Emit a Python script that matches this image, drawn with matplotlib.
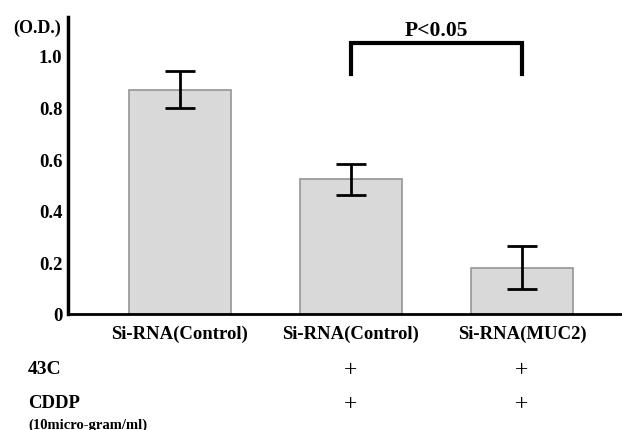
import matplotlib
matplotlib.use('Agg')
import matplotlib.pyplot as plt
import matplotlib.transforms as mtransforms

groups = ['Si-RNA(Control)', 'Si-RNA(Control)', 'Si-RNA(MUC2)']
od_mean = [0.87, 0.523, 0.18]
od_err = [0.072, 0.06, 0.082]
row_43c = ['', '+', '+']
row_cddp = ['', '+', '+']
yticks = [0, 0.2, 0.4, 0.6, 0.8, 1.0]
ytick_labels = ['0', '0.2', '0.4', '0.6', '0.8', '1.0']

plt.rcParams['font.family'] = ['Liberation Serif', 'DejaVu Serif']

W, H = 622, 431
fig = plt.figure(figsize=(W / 100, H / 100), dpi=100)
ax = fig.add_axes([68 / W, (H - 315) / H, (W - 68) / W, (315 - 18) / H])

x = list(range(len(groups)))
ax.bar(x, od_mean, width=0.6, color='#d9d9d9', edgecolor='#959595', linewidth=1.2, zorder=2)
ax.errorbar(x, od_mean, yerr=od_err, fmt='none', ecolor='black', elinewidth=2,
            capsize=11, capthick=2, zorder=3)

ax.set_xlim(-0.655, 2.585)
ax.set_ylim(0, 1.151)

for s in ['top', 'right']:
    ax.spines[s].set_visible(False)
ax.spines['left'].set_linewidth(2.5)
ax.spines['bottom'].set_linewidth(2)

ax.set_yticks(yticks)
ax.set_yticklabels(ytick_labels, fontsize=13.5, fontweight='bold')
ax.tick_params(axis='y', length=0, pad=4)
ax.set_xticks(x)
ax.set_xticklabels(groups, fontsize=13.5, fontweight='bold')
ax.tick_params(axis='x', length=0, pad=7.5)

fig.text(13 / W, 1 - 28 / H, '(O.D.)', fontsize=13, fontweight='bold', va='center', ha='left')

# significance bracket
bx0, bx1 = 1, 2
ytop, ybot = 1.051, 0.93
ax.plot([bx0, bx0, bx1, bx1], [ybot, ytop, ytop, ybot], color='black', lw=3,
        solid_joinstyle='miter', clip_on=False)
ax.text((bx0 + bx1) / 2, ytop + 0.012, 'P<0.05', ha='center', va='bottom',
        fontsize=15.5, fontweight='bold')

# treatment rows below the axis
tr = mtransforms.blended_transform_factory(ax.transData, fig.transFigure)
fig.text(28 / W, 1 - 370 / H, '43C', fontsize=14, fontweight='bold', va='center')
fig.text(28 / W, 1 - 404 / H, 'CDDP', fontsize=13.5, fontweight='bold', va='center')
fig.text(28 / W, 1 - 425 / H, '(10micro-gram/ml)', fontsize=10.5, fontweight='bold', va='center')
for i in x:
    ax.text(i, 1 - 371 / H, row_43c[i], transform=tr, ha='center', va='center', fontsize=17)
    ax.text(i, 1 - 405 / H, row_cddp[i], transform=tr, ha='center', va='center', fontsize=17)

fig.savefig('out.png', dpi=100)
